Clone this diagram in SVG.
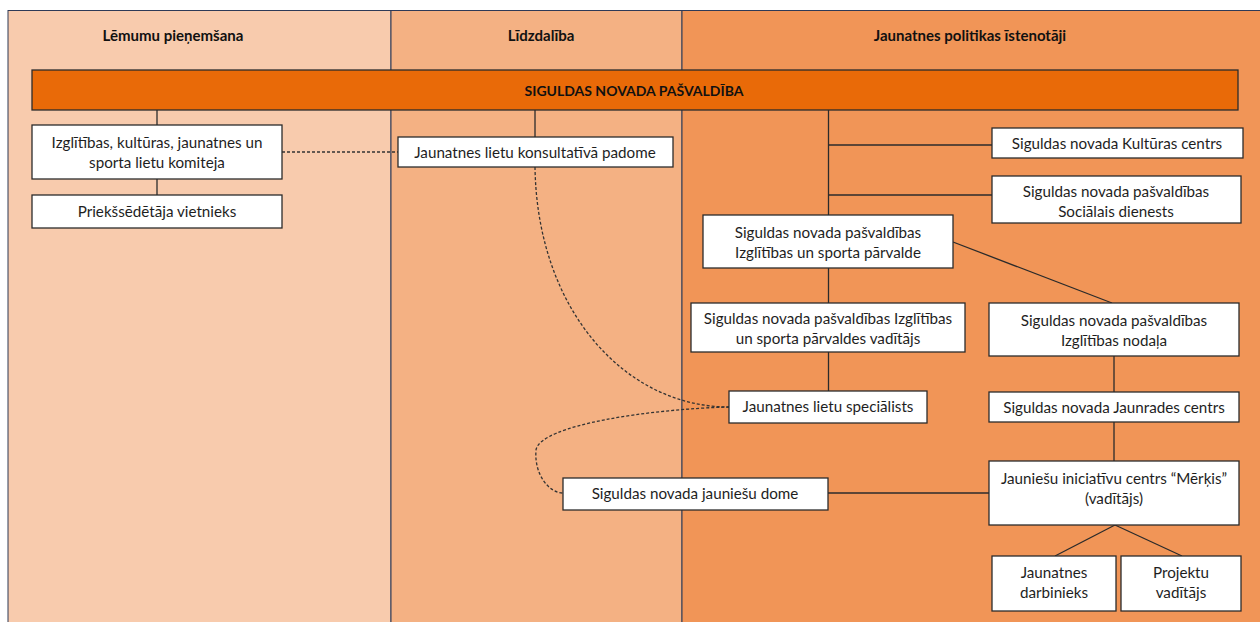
<svg xmlns="http://www.w3.org/2000/svg" width="1260" height="622" viewBox="0 0 1260 622">
<style>
.col{stroke:#2E3A57;stroke-width:1}
.box{fill:#FFFFFF;stroke:#2B2B2B;stroke-width:1.3}
.t{font-family:Lato,"Liberation Sans",sans-serif;font-size:15.2px;fill:#1E1E1E;text-anchor:middle;dominant-baseline:central}
.h{font-family:Lato,"Liberation Sans",sans-serif;font-size:15px;font-weight:bold;fill:#111;text-anchor:middle;dominant-baseline:central}
.ln{stroke:#2B2B2B;stroke-width:1.3;fill:none}
.dash{stroke:#333;stroke-width:1.3;fill:none;stroke-dasharray:3 2}
</style>
<rect x="0" y="0" width="1260" height="622" fill="#FFFFFF"/>
<g id="columns">
<rect class="col" x="8" y="10.5" width="383" height="620" fill="#F8CBAD"/>
<rect class="col" x="391" y="10.5" width="291" height="620" fill="#F4B183"/>
<rect class="col" x="682" y="10.5" width="590" height="620" fill="#F19557"/>
<text class="h" x="173" y="35">Lēmumu pieņemšana</text>
<text class="h" x="541" y="35">Līdzdalība</text>
<text class="h" x="970" y="35">Jaunatnes politikas īstenotāji</text>
</g>
<g id="connectors">
<line class="ln" x1="157" y1="110" x2="157" y2="125"/>
<line class="ln" x1="157" y1="179" x2="157" y2="195"/>
<line class="ln" x1="535" y1="110" x2="535" y2="137"/>
<line class="ln" x1="828.5" y1="110" x2="828.5" y2="215"/>
<line class="ln" x1="828.5" y1="145" x2="992" y2="145"/>
<line class="ln" x1="828.5" y1="195" x2="992" y2="195"/>
<line class="ln" x1="828.5" y1="268" x2="828.5" y2="303"/>
<line class="ln" x1="828.5" y1="352" x2="828.5" y2="391"/>
<line class="ln" x1="953" y1="242" x2="1112" y2="303"/>
<line class="ln" x1="1114" y1="356" x2="1114" y2="392"/>
<line class="ln" x1="1114" y1="422" x2="1114" y2="461"/>
<line class="ln" x1="828" y1="493" x2="989" y2="493"/>
<line class="ln" x1="1115" y1="525" x2="1055" y2="556"/>
<line class="ln" x1="1115" y1="525" x2="1182" y2="556"/>
<line class="dash" x1="282" y1="152" x2="398" y2="152"/>
<path class="dash" d="M535,167 C537,310 625,407 729,407"/>
<path class="dash" d="M729,407 C650,409 540,425 536,450 C534,476 550,493 563,493"/>
</g>
<g id="pasvaldiba">
<rect x="32" y="70" width="1206" height="40" fill="#E96A08" stroke="#2B2B2B" stroke-width="1.3"/>
<text class="h" x="634" y="90" style="font-size:14px">SIGULDAS NOVADA PAŠVALDĪBA</text>
</g>
<g id="komiteja">
<rect class="box" x="32" y="125" width="250" height="54"/>
<text class="t" x="157" y="142">Izglītības, kultūras, jaunatnes un</text>
<text class="t" x="157" y="162">sporta lietu komiteja</text>
</g>
<g id="vietnieks">
<rect class="box" x="32" y="195" width="250" height="33"/>
<text class="t" x="157" y="211">Priekšsēdētāja vietnieks</text>
</g>
<g id="padome">
<rect class="box" x="398" y="137" width="275" height="30"/>
<text class="t" x="535" y="152">Jaunatnes lietu konsultatīvā padome</text>
</g>
<g id="kultura">
<rect class="box" x="992" y="128" width="251" height="30"/>
<text class="t" x="1117" y="143">Siguldas novada Kultūras centrs</text>
</g>
<g id="socialais">
<rect class="box" x="992" y="176" width="249" height="47"/>
<text class="t" x="1116" y="191">Siguldas novada pašvaldības</text>
<text class="t" x="1116" y="211">Sociālais dienests</text>
</g>
<g id="parvalde">
<rect class="box" x="703" y="215" width="250" height="53"/>
<text class="t" x="828" y="232">Siguldas novada pašvaldības</text>
<text class="t" x="828" y="252">Izglītības un sporta pārvalde</text>
</g>
<g id="vaditajs">
<rect class="box" x="691" y="303" width="274" height="49"/>
<text class="t" x="828" y="318">Siguldas novada pašvaldības Izglītības</text>
<text class="t" x="828" y="338">un sporta pārvaldes vadītājs</text>
</g>
<g id="nodala">
<rect class="box" x="989" y="303" width="250" height="53"/>
<text class="t" x="1114" y="320">Siguldas novada pašvaldības</text>
<text class="t" x="1114" y="340">Izglītības nodaļa</text>
</g>
<g id="specialists">
<rect class="box" x="729" y="391" width="198" height="32"/>
<text class="t" x="828" y="406">Jaunatnes lietu speciālists</text>
</g>
<g id="jaunrade">
<rect class="box" x="989" y="392" width="250" height="30"/>
<text class="t" x="1114" y="407">Siguldas novada Jaunrades centrs</text>
</g>
<g id="dome">
<rect class="box" x="563" y="478" width="265" height="32"/>
<text class="t" x="695" y="493">Siguldas novada jauniešu dome</text>
</g>
<g id="merkis">
<rect class="box" x="989" y="461" width="250" height="64"/>
<text class="t" x="1114" y="478">Jauniešu iniciatīvu centrs “Mērķis”</text>
<text class="t" x="1114" y="498">(vadītājs)</text>
</g>
<g id="darbinieks">
<rect class="box" x="992" y="556" width="124" height="55"/>
<text class="t" x="1054" y="572">Jaunatnes</text>
<text class="t" x="1054" y="592">darbinieks</text>
</g>
<g id="projektu">
<rect class="box" x="1121" y="556" width="120" height="55"/>
<text class="t" x="1181" y="572">Projektu</text>
<text class="t" x="1181" y="592">vadītājs</text>
</g>
</svg>
